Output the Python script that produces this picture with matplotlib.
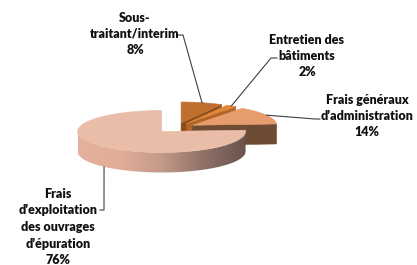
import numpy as np
import matplotlib
matplotlib.use("Agg")
import matplotlib.pyplot as plt
from matplotlib.patches import Polygon
from matplotlib.colors import LinearSegmentedColormap

# data
labels = ["Sous-\ntraitant/interim", "Entretien des\nbâtiments",
          "Frais généraux\nd’administration",
          "Frais\nd’exploitation\ndes ouvrages\nd’épuration"]
shares = [8, 2, 14, 76]

# style / layout
top_cols = ["#BF6F2E", "#E2873A", "#E69C6C", "#EABDA8"]
side_cols = ["#8C4C1C", "#B0652A", "#6E4B33", "#E2AF9A"]
explode = [0.22, 0.22, 0.22, 0.26]
C = (176.5, 127.5)
rx, ry, h = 84, 21, 20
label_xy = [(135, 34), (307, 56), (367, 116), (58, 227)]
elbows = [[(183, 35), (178, 35)], [(271, 58), (277, 58)],
          [(315, 119), (320, 119)], [(104, 210), (100, 210)]]
fonts = ["Lato", "DejaVu Sans"]

fig = plt.figure(figsize=(4.17, 2.65), dpi=100)
ax = fig.add_axes([0, 0, 1, 1])
ax.set_xlim(0, 417)
ax.set_ylim(265, 0)
ax.axis("off")


def proj(c, th, dz=0):
    t = np.radians(th)
    return c[0] + rx * np.cos(t), c[1] - ry * np.sin(t) + dz


wall_cmap = LinearSegmentedColormap.from_list(
    "wall", ["#E4B29C", "#E0AD97", "#C39A8A", "#8E7067", "#6A554E"])

start = 90.0
for i, v in enumerate(shares):
    th2 = start
    th1 = start - 360.0 * v / 100
    start = th1
    mid = (th1 + th2) / 2
    m = np.radians(mid)
    apex = (C[0] + explode[i] * rx * np.cos(m), C[1] - explode[i] * ry * np.sin(m))

    # radial side faces
    for th, ok in ((th1, np.cos(np.radians(th1)) > 1e-6), (th2, np.cos(np.radians(th2)) < -1e-6)):
        if ok:
            p = proj(apex, th)
            pts = [apex, p, (p[0], p[1] + h), (apex[0], apex[1] + h)]
            ax.add_patch(Polygon(pts, closed=True, fc=side_cols[i], ec=side_cols[i], lw=0.4))

    # outer wall, front part only
    for k in (-1, 0):
        a = max(th1, 180 + 360 * k)
        b = min(th2, 360 + 360 * k)
        if b > a:
            arc = np.linspace(a, b, 80)
            upper = [proj(apex, t) for t in arc]
            lower = [proj(apex, t, h) for t in arc[::-1]]
            wall = Polygon(upper + lower, closed=True, fc="none", ec="none")
            ax.add_patch(wall)
            xs = [p[0] for p in upper]
            grad = np.linspace(0, 1, 256).reshape(1, -1)
            im = ax.imshow(grad, cmap=wall_cmap, aspect="auto",
                           extent=(min(xs), max(xs), apex[1] + ry + h + 2, apex[1] - 2),
                           interpolation="bilinear", zorder=1)
            im.set_clip_path(wall)

    # top face
    arc = np.linspace(th1, th2, 100)
    pts = [apex] + [proj(apex, t) for t in arc]
    ax.add_patch(Polygon(pts, closed=True, fc=top_cols[i], ec=top_cols[i], lw=0.4, zorder=2))

    # leader line from slice edge to label
    if np.sin(m) > 0:
        a0 = proj(apex, mid)
    else:
        a0 = proj(apex, mid, h)
    path = [a0] + elbows[i]
    ax.plot([p[0] for p in path], [p[1] for p in path], color="#404040", lw=0.8, zorder=3)

    ax.text(label_xy[i][0], label_xy[i][1], labels[i] + "\n%d%%" % v,
            ha="center", va="center", fontsize=9, fontweight="heavy",
            family=fonts, linespacing=1.45, color="#111111", zorder=4)

fig.savefig("out.png", dpi=100)
